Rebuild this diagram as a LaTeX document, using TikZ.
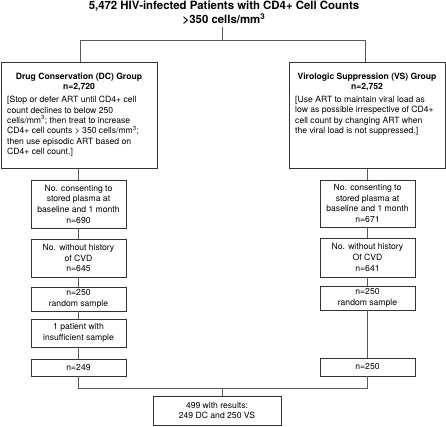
\documentclass[tikz,border=0pt]{standalone}
\usepackage{fontspec}
\setmainfont{TeX Gyre Heros}
\newcommand{\py}[1]{\fpeval{426-#1}}
\begin{document}
\begin{tikzpicture}[x=1pt,y=1pt,
  box/.style={draw=black!80, line width=0.6pt, minimum width=95pt, inner sep=0pt, align=center, font=\fontsize{8.6pt}{10.7pt}\selectfont},
  ml/.style={execute at begin node={\rule{0pt}{11.5pt}}},
  gbox/.style={draw=black!80, line width=0.6pt, minimum width=156pt, minimum height=106pt, inner sep=0pt, anchor=north west},
  ghead/.style={anchor=north, inner sep=0pt, align=center, font=\fontsize{8.6pt}{10pt}\selectfont\bfseries},
  gtext/.style={anchor=north west, inner sep=0pt, align=left, font=\fontsize{8.6pt}{10.4pt}\selectfont},
  conn/.style={draw=black!65, line width=0.6pt},
]
\useasboundingbox (0,0) rectangle (446,426);
\node[anchor=north, inner sep=0pt, align=center, font=\fontsize{11.4pt}{14pt}\selectfont\bfseries] (title) at (224,425)
  {5,472 HIV-infected Patients with CD4+ Cell Counts\\ >350 cells/mm\textsuperscript{3}};
\node[gbox] (dc) at (1,\py{62}) {};
\node[gbox] (vs) at (289,\py{62}) {};
\node[ghead] (dch) at (79,\py{72.5}) {Drug Conservation (DC) Group\\ n=2,720};
\node[ghead] (vsh) at (367,\py{72.5}) {Virologic Suppression (VS) Group\\ n=2,752};
\node[gtext] (dct) at (7,\py{96}) {[Stop or defer ART until CD4+ cell\\ count declines to below 250\\ cells/mm\textsuperscript{3}; then treat to increase\\ CD4+ cell counts > 350 cells/mm\textsuperscript{3};\\ then use episodic ART based on\\ CD4+ cell count.]};
\node[gtext] (vst) at (295,\py{96}) {[Use ART to maintain viral load as\\ low as possible irrespective of CD4+\\ cell count by changing ART when\\ the viral load is not suppressed.]};

\node[box, ml, minimum height=48pt] (l1) at (78.5,\py{204}) {No. consenting to\\ stored plasma at\\ baseline and 1 month\\ n=690};
\node[box, ml, minimum height=38pt] (l2) at (78.5,\py{258}) {No. without history\\ of CVD\\ n=645};
\node[box, ml, minimum height=24pt] (l3) at (78.5,\py{299}) {n=250\\ random sample};
\node[box, ml, minimum height=28pt] (l4) at (78.5,\py{333}) {1 patient with\\ insufficient sample};
\node[box, minimum height=17pt] (l5) at (78.5,\py{367.5}) {n=249};

\node[box, ml, minimum height=47pt] (r1) at (367.5,\py{203.5}) {No. consenting to\\ stored plasma at\\ baseline and 1 month\\ n=671};
\node[box, ml, minimum height=39pt] (r2) at (367.5,\py{257.5}) {No. without history\\ Of CVD\\ n=641};
\node[box, ml, minimum height=24pt] (r3) at (367.5,\py{298}) {n=250\\ random sample};
\node[box, minimum height=18pt] (r5) at (367.5,\py{367}) {n=250};

\node[box, ml, minimum width=128pt, minimum height=29pt] (fin) at (217,\py{410.5}) {499 with results:\\ 249 DC and 250 VS};

\coordinate (t0) at (222.5,\py{27});
\coordinate (t1) at (222.5,\py{40});
\coordinate (tl) at (80,\py{40});
\coordinate (tr) at (365.5,\py{40});
\draw[conn] (t0) -- (t1);
\draw[conn] (dc.north -| tl) -- (tl) -- (tr) -- (vs.north -| tr);
\draw[conn] (dc.south -| l1.north) -- (l1.north);
\draw[conn] (vs.south -| r1.north) -- (r1.north);
\draw[conn] (l1) -- (l2);
\draw[conn] (l2) -- (l3);
\draw[conn] (l3) -- (l4);
\draw[conn] (l4) -- (l5);
\draw[conn] (r1) -- (r2);
\draw[conn] (r2) -- (r3);
\draw[conn] (r3) -- (r5);
\coordinate (jl) at (78.5,\py{388});
\coordinate (jr) at (367.5,\py{388});
\coordinate (jm) at (222.5,\py{388});
\draw[conn] (l5.south) -- (jl) -- (jr) -- (r5.south);
\draw[conn] (jm) -- (jm |- fin.north);
\end{tikzpicture}
\end{document}
